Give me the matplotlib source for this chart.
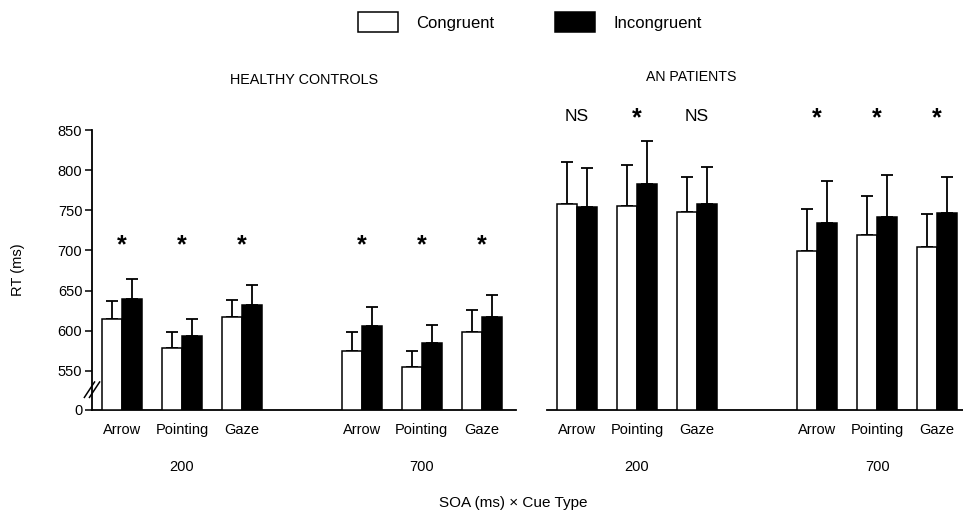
import numpy as np
import matplotlib.pyplot as plt
from matplotlib.patches import Patch

plt.rcParams['font.family'] = ['Liberation Sans', 'DejaVu Sans']

cues = ['Arrow', 'Pointing', 'Gaze']
soas = ['200', '700']
positions = np.array([0, 1, 2, 4, 5, 6])

# healthy controls: means and upward error (SE)
hc_cong = [615, 579, 617, 575, 555, 598]
hc_cong_err = [22.5, 20, 21, 23, 20, 28]
hc_incong = [640, 594, 632, 606, 585, 617.5]
hc_incong_err = [25, 21, 25, 24, 22, 27.5]
hc_sig = ['*', '*', '*', '*', '*', '*']

# AN patients
an_cong = [758, 755, 747.5, 699, 719, 704]
an_cong_err = [52, 52, 43.5, 52, 48.5, 41]
an_incong = [754, 783, 758, 734.5, 741.5, 746]
an_incong_err = [49, 53, 46, 51.5, 52.5, 45]
an_sig = ['NS', '*', 'NS', '*', '*', '*']

YMIN = 501.25   # axis bottom shown as "0" (broken axis)
YMAX = 850
W, H = 963, 513

fig = plt.figure(figsize=(W / 100, H / 100), dpi=100)
ax1 = fig.add_axes([92 / W, 103 / H, 424 / W, 280 / H])
ax2 = fig.add_axes([547 / W, 103 / H, 416 / W, 280 / H])


def draw_panel(ax, cong, cong_err, incong, incong_err, sig, sig_y, xmax):
    bw = 1 / 3
    cong = np.array(cong)
    incong = np.array(incong)
    ax.bar(positions - bw / 2, cong - YMIN, bottom=YMIN, width=bw,
           color='white', edgecolor='black', linewidth=1.1, zorder=3)
    ax.bar(positions + bw / 2, incong - YMIN, bottom=YMIN, width=bw,
           color='black', edgecolor='black', linewidth=1.1, zorder=3)
    z = np.zeros(len(positions))
    ax.errorbar(positions - bw / 2, cong, yerr=[z, cong_err], fmt='none',
                ecolor='black', elinewidth=1.3, capsize=4, capthick=1.3, zorder=2)
    ax.errorbar(positions + bw / 2, incong, yerr=[z, incong_err], fmt='none',
                ecolor='black', elinewidth=1.3, capsize=4, capthick=1.3, zorder=2)
    for p, s in zip(positions, sig):
        if s == '*':
            ax.text(p, sig_y, s, ha='center', va='center', fontsize=18,
                    fontweight='bold', clip_on=False)
        else:
            ax.text(p, sig_y + 3, s, ha='center', va='center', fontsize=12.5,
                    clip_on=False)
    ax.set_xlim(-0.5, xmax)
    ax.set_ylim(YMIN, YMAX)
    ax.set_xticks([])
    for sp in ['top', 'right']:
        ax.spines[sp].set_visible(False)
    ax.spines['bottom'].set_linewidth(1.3)
    # cue labels and SOA labels
    for p, c in zip(positions, cues * 2):
        ax.text(p, -0.07, c, transform=ax.get_xaxis_transform(), ha='center',
                va='center', fontsize=10.5)
    for p, s in zip([1, 5], soas):
        ax.text(p, -0.205, s, transform=ax.get_xaxis_transform(), ha='center',
                va='center', fontsize=10.5)


draw_panel(ax1, hc_cong, hc_cong_err, hc_incong, hc_incong_err, hc_sig, 706, 6.57)
draw_panel(ax2, an_cong, an_cong_err, an_incong, an_incong_err, an_sig, 864, 6.43)

ax1.set_yticks([YMIN, 550, 600, 650, 700, 750, 800, 850])
ax1.set_yticklabels(['0', '550', '600', '650', '700', '750', '800', '850'])
ax1.tick_params(axis='y', labelsize=10.5, length=5, width=1.1, direction='out', pad=2)
ax1.spines['left'].set_linewidth(1.3)

# axis break marks
for dx in (-0.012, 0.0):
    ax1.plot([dx - 0.006, dx + 0.018], [0.045, 0.1],
             transform=ax1.transAxes, color='black', lw=1.1, clip_on=False)

ax2.spines['left'].set_visible(False)
ax2.set_yticks([])

fig.text(304 / W, 1 - 80 / H, 'HEALTHY CONTROLS', ha='center', va='center', fontsize=10.4)
fig.text(691 / W, 1 - 77 / H, 'AN PATIENTS', ha='center', va='center', fontsize=10.2)
fig.text(18 / W, 1 - 270 / H, 'RT (ms)', rotation=90, ha='center', va='center', fontsize=10.5)
fig.text(513 / W, 1 - 503 / H, 'SOA (ms) \u00d7 Cue Type', ha='center', va='center', fontsize=11)

handles = [Patch(facecolor='white', edgecolor='black', linewidth=1.1),
           Patch(facecolor='black', edgecolor='black', linewidth=1.1)]
fig.legend(handles, ['Congruent', 'Incongruent'], loc='center',
           bbox_to_anchor=(530 / W, 1 - 22 / H), ncol=2, frameon=False,
           fontsize=12, handlelength=2.4, handleheight=1.45,
           handletextpad=1.08, columnspacing=3.65)

fig.savefig('out.png', dpi=100)
